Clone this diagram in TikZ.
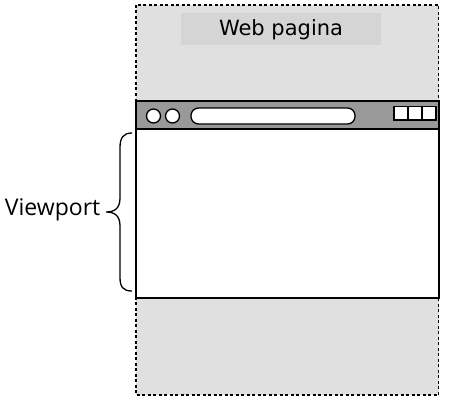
\documentclass[tikz,border=0pt]{standalone}
\usepackage{fontspec}
\setmainfont{DejaVu Sans}
\newfontfamily\vpfont{Open Sans}
\definecolor{pagegray}{HTML}{E0E0E0}
\definecolor{titlegray}{HTML}{D5D5D5}
\definecolor{bargray}{HTML}{999999}
\begin{document}
\begin{tikzpicture}[x=1pt,y=-1pt,
  pagebox/.style={draw=black,fill=pagegray,line width=1.8pt,dash pattern=on 3pt off 2.5pt},
  winbox/.style={draw=black,line width=1.5pt},
  ctl/.style={draw=black,fill=white,line width=1.3pt},
  lbl/.style={inner sep=0pt}]
\useasboundingbox (0,0) rectangle (462,401);
% page
\path[pagebox] (136,5) rectangle (438.5,395);
\node[fill=titlegray,minimum width=200pt,minimum height=32pt,inner sep=0pt] (title) at (281,29) {};
\node[lbl,font=\fontsize{21}{25}\selectfont] (titletext) at (281,30) {Web pagina};
% window
\path[fill=white] (136,129) rectangle (439,298);
\path[fill=bargray] (136,101) rectangle (439,129);
\draw[winbox] (136,101) rectangle (439,298);
\draw[winbox] (136,129) -- (439,129);
\node[ctl,circle,minimum size=14pt,inner sep=0pt] (c1) at (153.5,116) {};
\node[ctl,circle,minimum size=14pt,inner sep=0pt] (c2) at (172.5,116) {};
\draw[ctl,rounded corners=7.5pt] (191,108) rectangle (355,124);
\draw[ctl] (394,106.5) rectangle (408,120);
\draw[ctl] (408,106.5) rectangle (422,120);
\draw[ctl] (422,106.5) rectangle (436,120);
% brace
\draw[line width=1.3pt] (132,133) .. controls (123,133) and (120,138) .. (120,148) -- (120,198) .. controls (120,208) and (115,212) .. (106,212)
  .. controls (115,212) and (120,216) .. (120,226) -- (120,277) .. controls (120,287) and (123,291) .. (132,291);
\node[lbl,font=\vpfont\fontsize{23}{27}\selectfont,anchor=east] (vp) at (100.5,210) {Viewport};
\end{tikzpicture}
\end{document}
